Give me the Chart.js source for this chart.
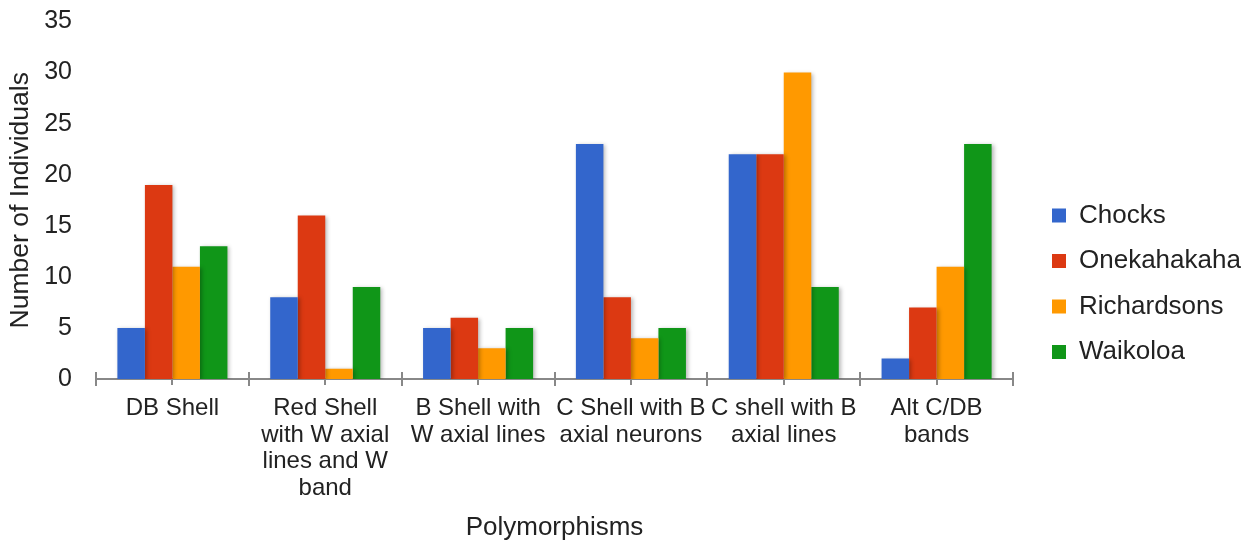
<!DOCTYPE html>
<html>
<head>
<meta charset="utf-8">
<script src="https://cdn.jsdelivr.net/npm/chart.js@4.4.0/dist/chart.umd.min.js"></script>
<style>
  html, body { margin: 0; padding: 0; background: #fff; }
  #wrap { width: 1256px; height: 546px; position: relative; }
</style>
</head>
<body>
<div id="wrap"><canvas id="c"></canvas></div>
<script>
const categories = [
  "DB Shell",
  ["Red Shell", "with W axial", "lines and W", "band"],
  ["B Shell with", "W axial lines"],
  ["C Shell with B", "axial neurons"],
  ["C shell with B", "axial lines"],
  ["Alt C/DB", "bands"]
];
const chocks      = [5, 8, 5, 23, 22, 2];
const onekahakaha = [19, 16, 6, 8, 22, 7];
const richardsons = [11, 1, 3, 4, 30, 11];
const waikoloa    = [13, 9, 5, 5, 9, 23];
const yTicks = [0, 5, 10, 15, 20, 25, 30, 35];

const FONT = "'Liberation Sans', Arial, sans-serif";
const TXT = '#222222';

const axisTicks = {
  id: 'axisTicks',
  afterDraw(chart) {
    const x = chart.scales.x;
    const y = chart.scales.y;
    const ctx = chart.ctx;
    const y0 = y.getPixelForValue(0);
    const n = chart.data.labels.length;
    ctx.save();
    ctx.strokeStyle = '#888888';
    ctx.lineWidth = 2;
    ctx.beginPath();
    for (let i = 0; i <= n; i++) {
      const px = Math.round(x.getPixelForValue(i - 0.5));
      ctx.moveTo(px, y0 - 7);
      ctx.lineTo(px, y0 + 7);
    }
    for (let i = 0; i < n; i++) {
      const px = Math.round(x.getPixelForValue(i));
      ctx.moveTo(px, y0);
      ctx.lineTo(px, y0 + 6);
    }
    ctx.stroke();
    ctx.restore();
  }
};

const barShadow = {
  id: 'barShadow',
  beforeDatasetsDraw(chart) {
    const ctx = chart.ctx;
    ctx.save();
    ctx.shadowColor = 'rgba(0,0,0,0.28)';
    ctx.shadowBlur = 4;
    ctx.shadowOffsetX = 2;
    ctx.shadowOffsetY = 1;
  },
  afterDatasetsDraw(chart) {
    chart.ctx.restore();
  }
};

// give the legend box a little extra room on its right so text isn't clipped
const legendRoom = {
  id: 'legendRoom',
  beforeLayout(chart) {
    const lg = chart.legend;
    if (lg && !lg._roomPatched) {
      const fit = lg.fit.bind(lg);
      lg.fit = function () { fit(); this.width += 10; };
      lg._roomPatched = true;
    }
  }
};

new Chart(document.getElementById('c'), {
  type: 'bar',
  data: {
    labels: categories,
    datasets: [
      { label: 'Chocks', data: chocks, backgroundColor: '#3366CC' },
      { label: 'Onekahakaha', data: onekahakaha, backgroundColor: '#DC3912' },
      { label: 'Richardsons', data: richardsons, backgroundColor: '#FF9900' },
      { label: 'Waikoloa', data: waikoloa, backgroundColor: '#109618' }
    ]
  },
  options: {
    responsive: true,
    maintainAspectRatio: false,
    animation: false,
    layout: { padding: { top: 21.5, right: 6, left: 5, bottom: 0 } },
    datasets: { bar: { categoryPercentage: 0.72, barPercentage: 1.0, borderWidth: 0 } },
    plugins: {
      tooltip: { enabled: false },
      legend: {
        position: 'right',
        align: 'center',
        labels: {
          color: TXT,
          font: { family: FONT, size: 26 },
          boxWidth: 14,
          boxHeight: 14,
          padding: 19.5
        }
      }
    },
    scales: {
      x: {
        grid: { display: false },
        border: { display: true, color: '#888888', width: 2 },
        afterFit(scale) { scale.height = 167; },
        ticks: {
          color: TXT,
          font: { family: FONT, size: 24, lineHeight: 1.11 },
          maxRotation: 0,
          autoSkip: false,
          padding: 8
        },
        title: {
          display: true,
          text: 'Polymorphisms',
          color: TXT,
          font: { family: FONT, size: 26 },
          padding: { top: 0, bottom: 3 }
        }
      },
      y: {
        min: 0,
        max: 35,
        afterBuildTicks(scale) { scale.ticks = yTicks.map(v => ({ value: v })); },
        afterFit(scale) {
          scale.width = 91;
          scale.paddingTop = 0;
          scale.paddingBottom = 0;
        },
        grid: { display: false },
        border: { display: false },
        ticks: {
          color: TXT,
          font: { family: FONT, size: 25 },
          padding: 16
        },
        title: {
          display: true,
          text: 'Number of Individuals',
          color: TXT,
          font: { family: FONT, size: 26.5 },
          padding: { top: 0, bottom: 4 }
        }
      },
      gap: {
        position: 'right',
        display: true,
        min: 0,
        max: 1,
        grid: { display: false },
        border: { display: false },
        ticks: { display: false },
        afterFit(scale) { scale.width = 19.5; scale.paddingTop = 0; scale.paddingBottom = 0; }
      }
    }
  },
  plugins: [legendRoom, barShadow, axisTicks]
});
</script>
</body>
</html>
